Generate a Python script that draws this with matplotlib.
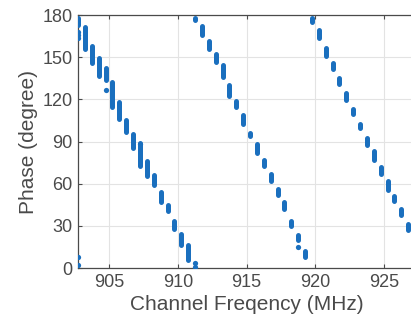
import matplotlib
matplotlib.use("Agg")
import matplotlib.pyplot as plt

# channel frequencies (MHz) and read-off phase ranges (degree) per channel
freq = [902.75, 903.25, 903.75, 904.25, 904.75, 905.25, 905.75, 906.25,
        906.75, 907.25, 907.75, 908.25, 908.75, 909.25, 909.75, 910.25,
        910.75, 911.25, 911.75, 912.25, 912.75, 913.25, 913.75, 914.25,
        914.75, 915.25, 915.75, 916.25, 916.75, 917.25, 917.75, 918.25,
        918.75, 919.25, 919.75, 920.25, 920.75, 921.25, 921.75, 922.25,
        922.75, 923.25, 923.75, 924.25, 924.75, 925.25, 925.75, 926.25,
        926.75]
phase_hi = [180, 173, 160, 151, 144, 134, 120, 107, 97, 91, 78, 68, 56, 47,
            35, 26, 18, 180, 174, 163, 154, 146, 132, 121, 111, 98, 90, 79,
            69, 58, 49, 35, 25, 14, 180, 171, 158, 148, 137, 126, 115, 104,
            94, 85, 74, 64, 53, 44, 33]
phase_lo = [171, 154, 144, 135, 132, 113, 104, 95, 84, 71, 64, 57, 45, 39,
            26, 15, 4, 175, 164, 154, 145, 134, 121, 113, 101, 92, 80, 71,
            60, 50, 40, 28, 18, 6, 173, 162, 149, 140, 129, 118, 108, 98,
            86, 75, 65, 54, 46, 36, 25]

# wrapped / stray readings
extra_freq = [902.75, 902.75, 902.75, 902.75, 902.75, 911.25, 911.25,
              918.75, 904.75, 907.25]
extra_phase = [168, 166, 164, 8, 2, 4, 0.5, 15, 127, 88]

blue = "#1a6fbe"
gray = "#4a4a4a"
lw = 3.6                       # strip width in points
cap = lw / 72 * 100 / 2 * 180 / 253   # cap radius in degrees
plt.rcParams['font.family'] = ['Liberation Sans', 'DejaVu Sans']

fig = plt.figure(figsize=(4.11, 3.27), dpi=100)
ax = fig.add_axes([0.19, 0.18, 0.82, 0.774])

ax.vlines(freq, [p + cap for p in phase_lo], [p - cap for p in phase_hi],
          colors=blue, linewidth=lw, capstyle="round", zorder=3)
ax.plot(extra_freq, extra_phase, "o", color=blue, ms=lw * 1.05, mec="none",
        zorder=3)

ax.set_xlim(902.75, 927.25)
ax.set_ylim(0, 180)
ax.set_xticks([905, 910, 915, 920, 925])
ax.set_yticks([0, 30, 60, 90, 120, 150, 180])
ax.grid(True, color="#e3e3e3", linewidth=0.8)
ax.set_axisbelow(True)
ax.tick_params(direction="in", length=3, labelsize=13, colors=gray,
               top=True, right=True, pad=4)
for s in ax.spines.values():
    s.set_color(gray)
    s.set_linewidth(0.9)

ax.set_xlabel("Channel Freqency (MHz)", fontsize=15, color=gray, labelpad=3)
ax.set_ylabel("Phase (degree)", fontsize=15, color=gray, labelpad=3)

fig.savefig("out.png", dpi=100)
